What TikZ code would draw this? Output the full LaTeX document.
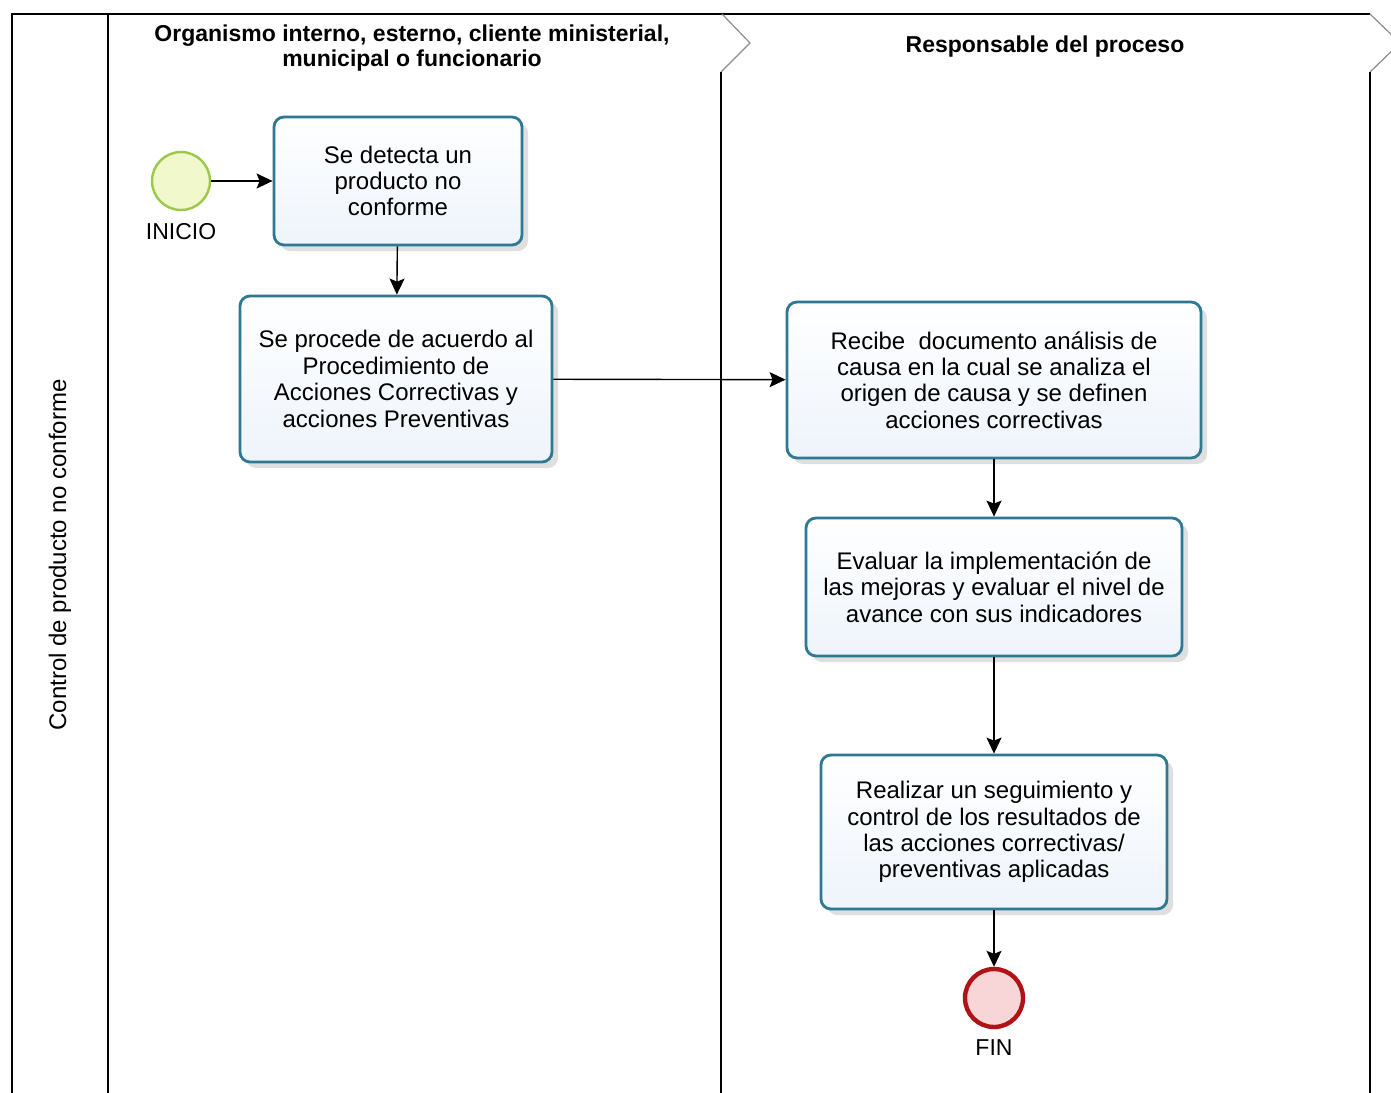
\documentclass[tikz,border=0pt]{standalone}
\usepackage{fontspec}
\setmainfont{Liberation Sans}
\usetikzlibrary{positioning}
\usetikzlibrary{arrows.meta}
\usetikzlibrary{shadows}
\definecolor{taskBorder}{RGB}{46,120,146}
\definecolor{taskFill}{RGB}{238,244,251}
\definecolor{startBorder}{RGB}{156,200,74}
\definecolor{startFill}{RGB}{240,248,204}
\definecolor{endBorder}{RGB}{176,18,22}
\definecolor{endFill}{RGB}{248,214,216}
\definecolor{chevronGray}{RGB}{140,140,140}

\begin{document}
\begin{tikzpicture}[x=0.5pt,y=-0.5pt,
  task/.style={draw=taskBorder, line width=1.4pt, rounded corners=5pt,
    top color=white, bottom color=taskFill, align=center, inner sep=0pt,
    font=\fontsize{12}{13.2}\selectfont,
    drop shadow={opacity=0.25, shadow xshift=3pt, shadow yshift=-3pt}},
  startev/.style={circle, draw=startBorder, line width=1.2pt, fill=startFill,
    minimum size=29pt, inner sep=0pt},
  endev/.style={circle, draw=endBorder, line width=2.2pt, fill=endFill,
    minimum size=29pt, inner sep=0pt},
  evlabel/.style={font=\fontsize{11.5}{13}\selectfont, inner sep=1pt},
  flow/.style={-{Stealth[length=8pt,width=7.5pt,inset=1.5pt]}, line width=0.7pt},
  lanehead/.style={font=\bfseries\fontsize{11.5}{12.8}\selectfont, align=center},
]
\useasboundingbox (0,0) rectangle (1391,1092);
\clip (0,0) rectangle (1391,1092);

% pool and lanes
\draw [line width=0.8pt] (12,1100) -- (12,14) -- (1370,14);
\draw [line width=0.8pt] (108,14) -- (108,1100);
\draw [chevronGray, line width=0.6pt] (722,14) -- (750,43) -- (721,72);
\draw [line width=0.8pt] (721,72) -- (721,1100);
\draw [chevronGray, line width=0.6pt] (1370,14) -- (1400,43) -- (1370,72);
\draw [line width=0.8pt] (1370,72) -- (1370,1100);

\node [rotate=90, font=\fontsize{12}{13}\selectfont] (pool) at (60,555) {Control de producto no conforme};
\node [lanehead] (laneA) at (412,48) {Organismo interno, esterno, cliente ministerial,\\municipal o funcionario};
\node [lanehead] (laneB) at (1045,47) {Responsable del proceso};

% events
\node [startev] (inicio) at (181,181) {};
\node [evlabel, below=5pt of inicio] (inicioLbl) {INICIO};
\node [endev] (fin) at (994,998) {};
\node [evlabel, below=4pt of fin] (finLbl) {FIN};

% tasks
\node [task, minimum width=124pt, minimum height=64pt] (detecta) at (398,181)
  {Se detecta un\\producto no\\conforme};
\node [task, minimum width=156pt, minimum height=83pt] (procede) at (396,379)
  {Se procede de acuerdo al\\Procedimiento de\\Acciones Correctivas y\\acciones Preventivas};
\node [task, minimum width=207pt, minimum height=78pt] (recibe) at (994,380)
  {Recibe\ \ documento análisis de\\causa en la cual se analiza el\\origen de causa y se definen\\acciones correctivas};
\node [task, minimum width=188pt, minimum height=69pt] (evaluar) at (994,587)
  {Evaluar la implementación de\\las mejoras y evaluar el nivel de\\avance con sus indicadores};
\node [task, minimum width=173pt, minimum height=77pt] (realizar) at (994,832)
  {Realizar un seguimiento y\\control de los resultados de\\las acciones correctivas/\\preventivas aplicadas};

% flows
\draw [flow] (inicio) -- (detecta);
\draw [flow] (detecta) -- (procede);
\draw [flow] (procede) -- (recibe);
\draw [flow] (recibe) -- (evaluar);
\draw [flow] (evaluar) -- (realizar);
\draw [flow] (realizar) -- (fin);
\end{tikzpicture}
\end{document}
